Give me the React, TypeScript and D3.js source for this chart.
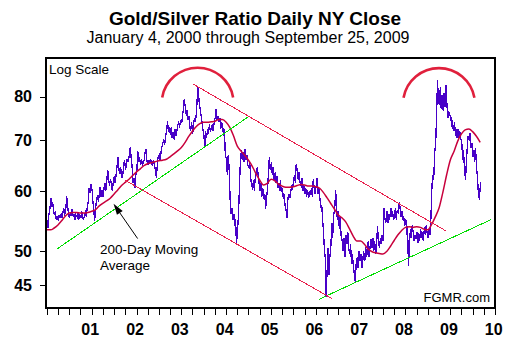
import React, { useEffect, useRef } from 'react';
import * as d3 from 'd3';

// Gold/Silver ratio, four readings per month (approx. 4th, 11th, 18th, 25th)
const ratio2000 = [
	55.0, 53.6, 55.8, 56.5, 58.7, 57.2, 58.0, 56.4, 55.8, 56.5, 55.0, 55.6,
	54.8, 55.8, 55.2, 56.0, 55.3, 56.2, 57.0, 55.6, 56.8, 59.0, 57.4, 56.0,
	55.2, 56.2, 55.6, 56.8, 55.4, 56.0, 55.0, 55.8, 55.4, 56.3, 55.0, 55.9,
	55.2, 56.5, 55.7, 54.9, 55.8, 56.2, 55.4, 57.0, 58.2, 60.5, 59.6, 61.2,
];
const ratio2001 = [
	60.2, 58.0, 56.5, 54.8, 57.5, 58.5, 59.2, 58.0, 59.5, 60.8, 59.0, 60.2,
	59.0, 60.5, 61.5, 60.0, 62.0, 64.0, 62.5, 61.0, 62.3, 61.0, 60.0, 61.5,
	62.8, 61.5, 63.0, 64.5, 66.5, 64.0, 63.2, 64.5, 62.5, 63.0, 64.8, 66.0,
	64.0, 65.5, 66.2, 65.5, 67.0, 68.5, 66.5, 65.0, 61.5, 62.5, 60.5, 62.8,
];
const ratio2002 = [
	64.0, 67.8, 65.5, 66.5, 65.0, 66.2, 64.8, 65.5, 66.0, 67.5, 68.2, 66.0,
	65.0, 66.0, 65.2, 66.2, 65.5, 64.8, 66.0, 65.2, 64.0, 62.5, 64.5, 66.5,
	67.0, 66.0, 67.2, 68.5, 69.5, 70.2, 69.0, 70.5, 72.5, 74.2, 71.8, 72.8,
	71.2, 73.0, 70.5, 71.8, 70.2, 72.5, 71.0, 72.0, 73.5, 74.0, 72.8, 74.5,
];
const ratio2003 = [
	73.8, 75.5, 77.0, 79.5, 77.0, 75.5, 76.8, 74.5, 75.5, 73.0, 72.0, 74.0,
	71.5, 73.5, 75.0, 74.0, 76.0, 80.0, 82.3, 79.0, 77.0, 75.5, 74.0, 72.5,
	71.0, 68.5, 72.0, 70.5, 72.5, 71.5, 73.5, 72.0, 72.5, 73.5, 72.0, 73.8,
	75.0, 77.0, 74.5, 75.5, 74.0, 75.0, 72.5, 74.0, 73.0, 71.0, 72.5, 67.0,
];
const ratio2004 = [
	66.0, 63.0, 67.0, 64.5, 57.5, 56.0, 57.0, 55.0, 56.0, 54.0, 55.0, 51.0,
	53.5, 56.0, 60.5, 65.0, 68.0, 66.0, 67.5, 65.5, 68.2, 66.0, 67.0, 65.0,
	64.5, 65.5, 63.0, 61.0, 60.5, 62.0, 60.0, 62.5, 63.5, 64.5, 63.0, 61.5,
	60.0, 61.5, 59.0, 60.5, 58.5, 59.5, 56.8, 58.8, 60.5, 63.5, 66.5, 64.0,
];
const ratio2005 = [
	65.5, 63.0, 64.5, 62.0, 63.5, 61.5, 62.8, 60.5, 61.5, 60.0, 62.0, 59.8,
	60.5, 58.5, 59.5, 57.5, 56.5, 55.3, 58.5, 59.5, 58.8, 60.0, 61.0, 60.2,
	62.0, 63.0, 61.5, 65.2, 63.5, 62.0, 63.5, 61.5, 61.0, 62.5, 60.0, 61.0,
	59.5, 60.5, 59.0, 60.2, 58.8, 60.0, 59.2, 60.5, 59.0, 62.3, 60.5, 59.5,
];
const ratio2006 = [
	61.0, 62.5, 59.5, 60.5, 58.5, 57.0, 57.5, 55.0, 53.0, 50.5, 49.0, 43.5,
	47.5, 50.5, 46.5, 49.0, 51.0, 54.5, 52.0, 55.5, 57.0, 60.2, 57.5, 55.0,
	56.5, 53.5, 55.5, 52.5, 51.5, 50.0, 52.0, 49.0, 52.5, 51.0, 53.0, 50.5,
	49.5, 51.0, 48.0, 49.5, 47.5, 46.5, 45.5, 48.0, 49.0, 47.5, 50.0, 48.5,
];
const ratio2007 = [
	49.5, 47.5, 48.5, 50.0, 48.5, 50.5, 49.0, 50.0, 51.5, 49.0, 50.5, 51.8,
	50.5, 52.0, 50.0, 51.5, 49.5, 51.0, 54.0, 51.5, 50.5, 52.0, 51.0, 52.5,
	51.5, 57.0, 55.0, 54.5, 56.5, 54.5, 56.0, 55.0, 57.0, 55.5, 56.5, 55.0,
	55.5, 57.0, 55.0, 56.5, 56.0, 58.0, 57.0, 55.5, 56.5, 55.0, 55.5, 54.0,
];
const ratio2008 = [
	55.0, 52.5, 54.0, 47.7, 51.5, 53.5, 52.0, 54.0, 53.0, 51.5, 52.5, 51.8,
	53.0, 51.2, 52.8, 51.5, 53.5, 52.0, 53.0, 51.5, 53.8, 52.5, 54.0, 52.8,
	52.0, 53.5, 52.5, 54.5, 61.0, 63.0, 62.0, 67.0, 70.0, 76.0, 84.2, 79.0,
	78.0, 82.5, 77.0, 80.5, 76.5, 81.0, 77.5, 83.0, 78.0, 75.0, 76.5, 75.5,
];
const ratio2009 = [
	75.5, 73.0, 74.5, 72.0, 74.0, 71.0, 72.5, 70.5, 72.5, 70.5, 72.0, 70.5,
	69.5, 66.0, 68.0, 64.5, 62.0, 65.5, 68.5, 71.0, 70.0, 71.5, 68.5, 69.5,
	66.5, 68.0, 65.5, 68.3, 64.0, 62.0, 59.0, 58.7, 61.6,
];

// 200-day moving average, first of each month
const avg2000 = [53.3, 53.3, 53.6, 54.1, 54.8, 55.6, 56.1, 56.2, 56.2, 56.1, 56.1, 56.2];
const avg2001 = [56.4, 56.7, 57.3, 57.8, 58.2, 58.7, 59.4, 60.2, 61.0, 61.6, 62.2, 62.9];
const avg2002 = [63.6, 64.2, 64.8, 65.2, 65.4, 65.6, 65.8, 65.9, 66.1, 66.6, 67.2, 67.8];
const avg2003 = [68.5, 69.6, 70.8, 72.0, 73.0, 73.7, 74.0, 74.0, 74.1, 74.2, 74.6, 74.6];
const avg2004 = [74.0, 72.8, 71.0, 68.8, 67.8, 66.9, 65.9, 64.7, 63.2, 62.0, 61.1, 61.4];
const avg2005 = [62.2, 61.9, 61.3, 60.9, 60.7, 60.7, 60.8, 61.0, 61.2, 61.1, 60.9, 60.9];
const avg2006 = [60.8, 60.5, 59.8, 58.8, 57.8, 56.8, 55.8, 55.3, 54.6, 53.5, 52.3, 51.5];
const avg2007 = [51.5, 51.0, 50.3, 49.9, 49.7, 49.6, 49.5, 49.9, 50.7, 51.6, 52.5, 53.2];
const avg2008 = [53.7, 53.8, 53.7, 53.8, 53.7, 53.4, 53.3, 54.2, 55.5, 57.0, 59.8, 63.0];
const avg2009 = [66.0, 67.8, 69.8, 71.4, 72.3, 72.5, 71.9, 70.9, 69.6];

const years = [2000, 2001, 2002, 2003, 2004, 2005, 2006, 2007, 2008, 2009];
const ratioByYear = [ratio2000, ratio2001, ratio2002, ratio2003, ratio2004, ratio2005, ratio2006, ratio2007, ratio2008, ratio2009];
const avgByYear = [avg2000, avg2001, avg2002, avg2003, avg2004, avg2005, avg2006, avg2007, avg2008, avg2009];

const yearLabels = ['01', '02', '03', '04', '05', '06', '07', '08', '09', '10'];
const yTicks = [45, 50, 60, 70, 80];

// hand-drawn trend lines: [date, ratio] -> [date, ratio]
const supportLines: [string, number, string, number][] = [
	['2000-03-26', 50.3, '2004-06-28', 75.2],
	['2006-01-23', 43.1, '2009-11-29', 55.0],
];
const channelLines: [string, number, string, number][] = [
	['2003-04-09', 83.1, '2008-11-28', 53.1],
	['2001-10-01', 62.0, '2006-05-15', 43.2],
];
// top arcs, centred on [date, ratio]
const topArcs: [string, number][] = [
	['2003-05-14', 78.3],
	['2008-09-30', 78.2],
];
const arrowTail: [string, number] = ['2002-01-10', 51.9];
const arrowTip: [string, number] = ['2001-06-28', 57.7];

const W = 526;
const H = 352;
const FONT = '"Liberation Sans", Arial, Helvetica, sans-serif';

const App: React.FC = () => {
	const ref = useRef<SVGSVGElement>(null);

	useEffect(() => {
		if (!ref.current) return;
		const svg = d3.select(ref.current);
		svg.selectAll('*').remove();

		const left = 46;
		const right = 495;
		const top = 58;
		const bottom = 308;

		const x = d3
			.scaleTime()
			.domain([new Date(2000, 0, 1), new Date(2010, 0, 1)])
			.range([46.8, 495.2]);
		const y = d3.scaleLog().domain([42, 90]).range([bottom, top]);
		const parse = d3.timeParse('%Y-%m-%d');

		const ratio: { date: Date; v: number }[] = [];
		ratioByYear.forEach((arr, yi) => {
			arr.forEach((v, i) => {
				ratio.push({ date: new Date(years[yi], Math.floor(i / 4), 4 + (i % 4) * 7), v });
			});
		});
		const avg: { date: Date; v: number }[] = [];
		avgByYear.forEach((arr, yi) => {
			arr.forEach((v, i) => avg.push({ date: new Date(years[yi], i, 1), v }));
		});

		svg.append('rect').attr('width', W).attr('height', H).attr('fill', '#fff');

		// titles
		svg
			.append('text')
			.attr('x', 255)
			.attr('y', 25)
			.attr('text-anchor', 'middle')
			.style('font', `bold 19px ${FONT}`)
			.attr('fill', '#000')
			.text('Gold/Silver Ratio Daily NY Close');
		svg
			.append('text')
			.attr('x', 248)
			.attr('y', 43)
			.attr('text-anchor', 'middle')
			.style('font', `16px ${FONT}`)
			.attr('fill', '#000')
			.text('January 4, 2000 through September 25, 2009');

		svg
			.append('clipPath')
			.attr('id', 'plot-clip')
			.append('rect')
			.attr('x', left)
			.attr('y', top)
			.attr('width', right - left)
			.attr('height', bottom - top);

		const plot = svg.append('g').attr('clip-path', 'url(#plot-clip)');

		// price line
		const line = d3
			.line<{ date: Date; v: number }>()
			.x((d) => x(d.date))
			.y((d) => y(d.v));
		plot
			.append('path')
			.datum(ratio)
			.attr('d', line)
			.attr('fill', 'none')
			.attr('stroke', '#4800c8')
			.attr('stroke-width', 1.3)
			.attr('shape-rendering', 'crispEdges');

		// moving average
		plot
			.append('path')
			.datum(avg)
			.attr('d', line.curve(d3.curveMonotoneX))
			.attr('fill', 'none')
			.attr('stroke', '#c8003c')
			.attr('stroke-width', 1.5);

		// trend lines
		const drawSeg = (s: [string, number, string, number], color: string) => {
			plot
				.append('line')
				.attr('x1', x(parse(s[0]) as Date))
				.attr('y1', y(s[1]))
				.attr('x2', x(parse(s[2]) as Date))
				.attr('y2', y(s[3]))
				.attr('stroke', color)
				.attr('stroke-width', 1)
				.attr('shape-rendering', 'crispEdges');
		};
		supportLines.forEach((s) => drawSeg(s, '#00dd00'));
		channelLines.forEach((s) => drawSeg(s, '#e8204c'));

		// arcs over the two tops
		topArcs.forEach(([d, v]) => {
			const p = d3.path();
			p.arc(x(parse(d) as Date), y(v), 36, (-170 * Math.PI) / 180, (-10 * Math.PI) / 180);
			plot
				.append('path')
				.attr('d', p.toString())
				.attr('fill', 'none')
				.attr('stroke', '#e0203c')
				.attr('stroke-width', 2.6);
		});

		// arrow to the moving average
		const tx = x(parse(arrowTail[0]) as Date);
		const ty = y(arrowTail[1]);
		const hx = x(parse(arrowTip[0]) as Date);
		const hy = y(arrowTip[1]);
		const len = Math.hypot(hx - tx, hy - ty);
		const ux = (hx - tx) / len;
		const uy = (hy - ty) / len;
		const bx = hx - ux * 11;
		const by = hy - uy * 11;
		plot
			.append('line')
			.attr('x1', tx)
			.attr('y1', ty)
			.attr('x2', bx)
			.attr('y2', by)
			.attr('stroke', '#000')
			.attr('stroke-width', 1);
		plot
			.append('path')
			.attr(
				'd',
				`M${hx},${hy}L${bx - uy * 3.5},${by + ux * 3.5}L${bx + uy * 3.5},${by - ux * 3.5}Z`,
			)
			.attr('fill', '#000');

		const note = svg.append('g').style('font', `13.5px ${FONT}`).attr('fill', '#000');
		note.append('text').attr('x', 100).attr('y', 254).text('200-Day Moving');
		note.append('text').attr('x', 100).attr('y', 270).text('Average');

		svg
			.append('text')
			.attr('x', 49)
			.attr('y', 74)
			.style('font', `13.5px ${FONT}`)
			.attr('fill', '#000')
			.text('Log Scale');
		svg
			.append('text')
			.attr('x', 490)
			.attr('y', 302)
			.attr('text-anchor', 'end')
			.style('font', `13px ${FONT}`)
			.attr('fill', '#000')
			.text('FGMR.com');

		// frame
		svg
			.append('rect')
			.attr('x', left)
			.attr('y', top)
			.attr('width', right - left)
			.attr('height', bottom - top)
			.attr('fill', 'none')
			.attr('stroke', '#000')
			.attr('stroke-width', 2);

		// y axis
		yTicks.forEach((t) => {
			svg
				.append('line')
				.attr('x1', 40)
				.attr('x2', left)
				.attr('y1', Math.round(y(t)) + 0.5)
				.attr('y2', Math.round(y(t)) + 0.5)
				.attr('stroke', '#000')
				.attr('stroke-width', 1);
			svg
				.append('text')
				.attr('x', 32)
				.attr('y', y(t))
				.attr('dy', '0.36em')
				.attr('text-anchor', 'end')
				.style('font', `bold 16px ${FONT}`)
				.attr('fill', '#000')
				.text(t);
		});

		// x axis: quarterly ticks, year labels
		const quarters = d3.timeMonth.every(3)!.range(new Date(2000, 0, 1), new Date(2010, 0, 2));
		quarters.forEach((q) => {
			const qx = Math.round(x(q)) + 0.5;
			svg
				.append('line')
				.attr('x1', qx)
				.attr('x2', qx)
				.attr('y1', bottom)
				.attr('y2', bottom + 7)
				.attr('stroke', '#000')
				.attr('stroke-width', 1);
		});
		yearLabels.forEach((lab, i) => {
			svg
				.append('text')
				.attr('x', x(new Date(2001 + i, 0, 1)) - 1.5)
				.attr('y', 335)
				.attr('text-anchor', 'middle')
				.style('font', `bold 16px ${FONT}`)
				.attr('fill', '#000')
				.text(lab);
		});
	}, []);

	return (
		<svg
			ref={ref}
			width={W}
			height={H}
			style={{ position: 'absolute', left: 0, top: 0, display: 'block' }}
		/>
	);
};

export default App;
